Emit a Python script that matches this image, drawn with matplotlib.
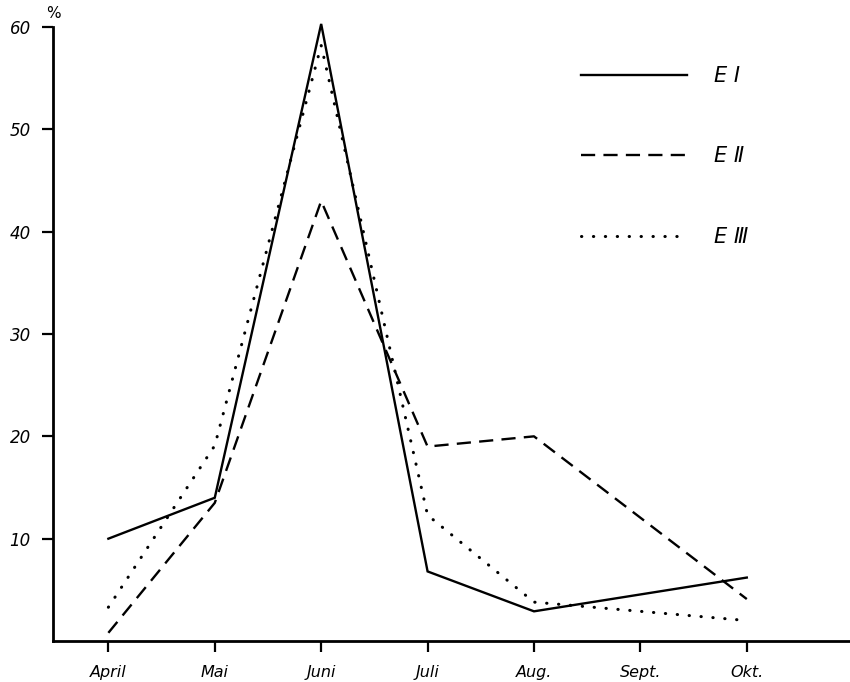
import matplotlib
matplotlib.use("Agg")
import matplotlib.pyplot as plt

# Monthly share (%) for three series
months = ["April", "Mai", "Juni", "Juli", "Aug.", "Sept.", "Okt."]
x_e1 = [0, 1, 2, 3, 4, 6]
e1 = [10.0, 14.0, 60.3, 6.8, 2.9, 6.2]
x_e2 = [0, 1, 2, 3, 4, 6]
e2 = [0.8, 13.5, 43.0, 19.0, 20.0, 4.1]
x_e3 = [0, 1, 2, 3, 4, 6]
e3 = [3.3, 19.1, 58.2, 12.3, 3.8, 2.0]
yticks = [10, 20, 30, 40, 50, 60]
series_labels = ["E \u2160", "E \u2161", "E \u2162"]

plt.rcParams["font.family"] = ["DejaVu Sans"]

fig = plt.figure(figsize=(8.5, 6.82), dpi=100)
ax = fig.add_axes([0.0624, 0.0601, 0.9376, 0.9003])

lw = 1.7
l1, = ax.plot(x_e1, e1, color="black", lw=lw, solid_joinstyle="miter",
              clip_on=False, label=series_labels[0])
l2, = ax.plot(x_e2, e2, color="black", lw=lw, linestyle=(0, (6, 3.5)),
              dash_capstyle="butt", clip_on=False, label=series_labels[1])
l3, = ax.plot(x_e3, e3, color="black", lw=2.2, linestyle=(0, (0.1, 3.8)),
              dash_capstyle="round", clip_on=False, label=series_labels[2])

ax.set_xlim(-0.52, 6.97)
ax.set_ylim(0, 60)

for side in ("top", "right"):
    ax.spines[side].set_visible(False)
for side in ("left", "bottom"):
    ax.spines[side].set_linewidth(2.0)

ax.set_xticks(range(len(months)))
ax.set_xticklabels(months, fontstyle="italic", fontsize=11.5)
ax.set_yticks(yticks)
ax.set_yticklabels([str(v) for v in yticks], fontstyle="italic", fontsize=12)
ax.tick_params(axis="x", direction="out", length=8, width=1.6, pad=9)
ax.tick_params(axis="y", direction="out", length=8, width=1.6, pad=8)

ax.text(0.0, 1.01, "%", transform=ax.transAxes, ha="center", va="bottom",
        fontsize=11)

leg = ax.legend(handles=[l1, l2, l3], loc="upper left",
                bbox_to_anchor=(0.6386, 0.967), frameon=False,
                handlelength=5.1, handletextpad=1.3, labelspacing=2.9,
                prop={"size": 15, "style": "italic"})

fig.savefig("out.png", dpi=100)
